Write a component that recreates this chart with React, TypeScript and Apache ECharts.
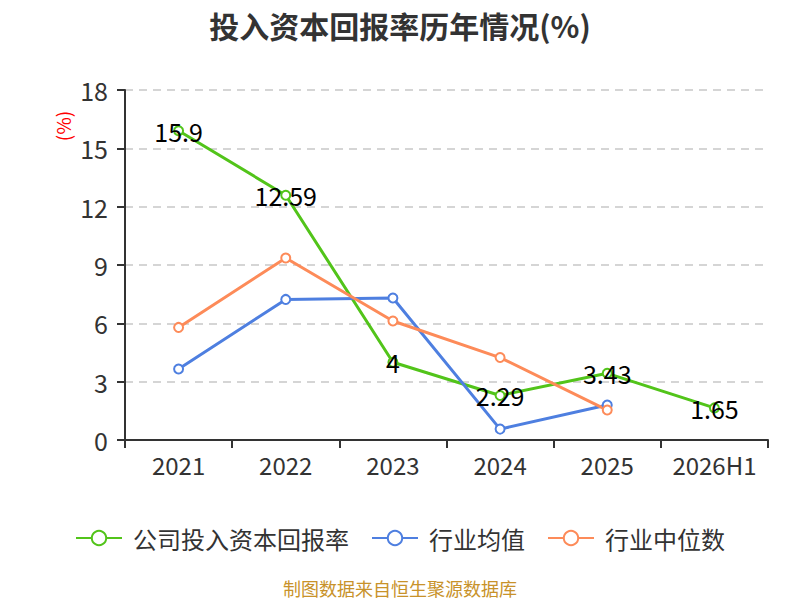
import React, { useEffect, useRef } from "react";
import * as echarts from "echarts";

const categories = ["2021", "2022", "2023", "2024", "2025", "2026H1"];
const companyRoic = [15.9, 12.59, 4, 2.29, 3.43, 1.65];
const industryAvg = [3.65, 7.23, 7.3, 0.56, 1.8, null];
const industryMedian = [5.79, 9.36, 6.12, 4.24, 1.54, null];

const FONT = "'Noto Sans CJK SC', 'Noto Sans', sans-serif";

export default function App() {
  const ref = useRef<HTMLDivElement>(null);
  useEffect(() => {
    if (!ref.current) return;
    const chart = echarts.init(ref.current, undefined, { renderer: "svg" });
    const mk = (name: string, data: any[], color: string, label: boolean) => ({
      name,
      type: "line",
      data,
      symbol: "emptyCircle",
      symbolSize: 9,
      lineStyle: { width: 3, color },
      itemStyle: { color, borderWidth: 1.5 },
      label: label
        ? {
            show: true,
            position: "inside",
            color: "#000",
            fontSize: 25,
            fontFamily: FONT,
          }
        : { show: false },
    });
    chart.setOption({
      animation: false,
      textStyle: { fontFamily: FONT },
      title: {
        text: "投入资本回报率历年情况(%)",
        left: "center",
        top: 5,
        textStyle: { fontSize: 30, fontWeight: "bold", color: "#333", fontFamily: FONT },
      },
      grid: { left: 125, right: 32, top: 90, bottom: 160 },
      legend: {
        top: 521,
        left: "center",
        itemWidth: 46,
        itemHeight: 18,
        itemGap: 22,
        textStyle: { fontSize: 24, color: "#333", fontFamily: FONT, padding: [0, 0, 0, 6] },
        data: ["公司投入资本回报率", "行业均值", "行业中位数"],
      },
      graphic: [
        {
          type: "text",
          left: "center",
          top: 579,
          style: { text: "制图数据来自恒生聚源数据库", fill: "#c8922a", fontSize: 18, fontFamily: FONT },
        },
        {
          type: "text",
          x: 62,
          y: 126,
          rotation: Math.PI / 2,
          style: {
            text: "(%)",
            fill: "#f00",
            fontSize: 19,
            fontFamily: FONT,
            align: "center",
            verticalAlign: "middle",
          },
        },
      ],
      xAxis: {
        type: "category",
        data: categories,
        boundaryGap: true,
        axisLine: { lineStyle: { color: "#333", width: 2 } },
        axisTick: { show: true, interval: 0, length: 8, lineStyle: { color: "#333", width: 2 } },
        axisLabel: { interval: 0, fontSize: 24, color: "#333", margin: 12, fontFamily: FONT },
      },
      yAxis: {
        type: "value",
        min: 0,
        max: 18,
        interval: 3,
        axisLine: { show: true, lineStyle: { color: "#333", width: 2 } },
        axisTick: { show: true, length: 8, lineStyle: { color: "#333", width: 2 } },
        axisLabel: { fontSize: 25, color: "#333", margin: 17, fontFamily: FONT },
        splitLine: { lineStyle: { type: [8, 6], color: "#c8c8c8", width: 1.5 } },
      },
      series: [
        mk("公司投入资本回报率", companyRoic, "#52c41a", true),
        mk("行业均值", industryAvg, "#4e7fe0", false),
        mk("行业中位数", industryMedian, "#fd8b59", false),
      ],
    });
    return () => chart.dispose();
  }, []);
  return (
    <div
      ref={ref}
      style={{ position: "absolute", left: 0, top: 0, width: 800, height: 600 }}
    />
  );
}
